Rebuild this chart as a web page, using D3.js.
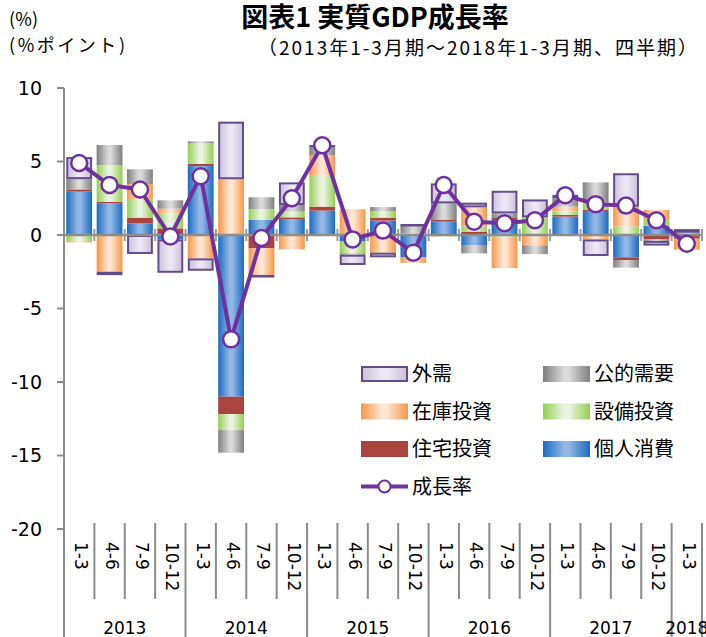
<!DOCTYPE html>
<html>
<head>
<meta charset="utf-8">
<script src="https://cdn.jsdelivr.net/npm/d3@7"></script>
<style>
	body { margin: 0; background: #fff; }
	svg { display: block; font-family: "DejaVu Sans", "Noto Sans CJK JP", sans-serif; }
	.jp { font-family: "Noto Sans CJK JP", sans-serif; }
</style>
</head>
<body>
<svg id="chart" width="706" height="637"></svg>
<script>
// quarters 2013 1-3 .. 2018 1-3
const quarterLabels = ['1-3', '4-6', '7-9', '10-12', '1-3', '4-6', '7-9', '10-12', '1-3', '4-6', '7-9', '10-12',
	'1-3', '4-6', '7-9', '10-12', '1-3', '4-6', '7-9', '10-12', '1-3'];
const yearLabels = ['2013', '2014', '2015', '2016', '2017', '2018'];
const yTicks = [10, 5, 0, -5, -10, -15, -20];

// contributions (%pt)
const consumption = [2.95, 2.16, 0.79, -0.30, 4.69, -11.0, 1.02, 1.09, 1.66, -0.45, 0.98, -1.50, 0.91, -0.68, 1.02, 0.10, 1.25, 1.63, -1.52, 0.63, 0.10];
const housing = [0.15, 0.10, 0.39, 0.45, 0.14, -1.18, -0.91, 0.11, 0.27, 0.05, 0.20, 0.00, 0.11, 0.23, 0.18, 0.00, 0.11, 0.07, -0.18, -0.30, -0.25];
const capex = [-0.40, 2.50, 1.27, 1.00, 1.40, -1.09, 0.73, 0.39, 2.15, -0.79, 0.45, 0.10, -0.10, 0.34, -0.15, 1.10, 0.23, 0.50, 0.57, 0.39, 0.00];
const inventory = [-0.10, -2.50, 1.02, 0.34, -1.59, 3.79, -1.81, -0.98, 1.36, 1.70, -1.20, -0.40, 0.00, 1.31, -2.10, -0.70, 0.34, -0.30, 1.36, 0.68, -0.75];
const publicDemand = [0.70, 1.36, 1.00, 0.57, 0.14, -1.54, 0.82, 0.45, 0.50, -0.10, 0.27, 0.55, 1.13, -0.57, 0.27, -0.60, 0.57, 1.38, -0.52, -0.10, 0.05];
const netExports = [1.50, -0.23, -1.29, -2.27, -0.84, 3.92, -0.10, 1.54, 0.18, -0.70, -0.32, 0.10, 1.36, 0.32, 1.54, 1.22, 0.23, -1.13, 2.27, -0.32, 0.25];
const growth = [4.9, 3.4, 3.1, -0.1, 4.0, -7.1, -0.2, 2.5, 6.1, -0.3, 0.3, -1.2, 3.4, 0.9, 0.8, 1.0, 2.7, 2.1, 2.0, 1.0, -0.6];

const series = [
	{ key: 'cons', name: '個人消費', values: consumption, edge: '#1b6bc0', mid: '#93b8e6' },
	{ key: 'house', name: '住宅投資', values: housing, edge: '#a9443f', mid: '#a9443f' },
	{ key: 'capex', name: '設備投資', values: capex, edge: '#92d050', mid: '#edf3e3' },
	{ key: 'inv', name: '在庫投資', values: inventory, edge: '#f79646', mid: '#fde6d4' },
	{ key: 'pub', name: '公的需要', values: publicDemand, edge: '#7f7f7f', mid: '#dadada' },
	{ key: 'ext', name: '外需', values: netExports, edge: '#cbc1dc', mid: '#ece8f3' }
];

const table = quarterLabels.map((q, i) => {
	const row = { i: i };
	series.forEach(s => row[s.key] = s.values[i]);
	return row;
});

const svg = d3.select('#chart');

const x = d3.scaleBand()
	.domain(d3.range(quarterLabels.length))
	.range([64, 702])
	.paddingInner(0.15)
	.paddingOuter(0.075);

const y = d3.scaleLinear()
	.domain([-20, 10])
	.range([529, 88]);

// boundary between quarter cells
const edgeX = (i) => x.range()[0] + i * x.step();

// gradients
const defs = svg.append('defs');
series.forEach(s => {
	const g = defs.append('linearGradient')
		.attr('id', 'grad-' + s.key)
		.attr('x1', 0).attr('x2', 1).attr('y1', 0).attr('y2', 0);
	g.append('stop').attr('offset', '0%').attr('stop-color', s.edge);
	g.append('stop').attr('offset', '45%').attr('stop-color', s.mid);
	g.append('stop').attr('offset', '55%').attr('stop-color', s.mid);
	g.append('stop').attr('offset', '100%').attr('stop-color', s.edge);
});

// titles
svg.append('text').attr('class', 'jp')
	.attr('x', 375).attr('y', 27)
	.attr('text-anchor', 'middle')
	.attr('font-size', 27).attr('font-weight', 'bold')
	.text('図表1 実質GDP成長率');
svg.append('text').attr('class', 'jp')
	.attr('x', 258).attr('y', 55)
	.attr('font-size', 19)
	.attr('textLength', 439)
	.attr('lengthAdjust', 'spacing')
	.text('（2013年1-3月期～2018年1-3月期、四半期）');
svg.append('text').attr('class', 'jp')
	.attr('x', 9).attr('y', 26)
	.attr('font-size', 18)
	.attr('textLength', 29)
	.attr('lengthAdjust', 'spacing')
	.text('(%)');
svg.append('text').attr('class', 'jp')
	.attr('x', 9).attr('y', 52)
	.attr('font-size', 18)
	.attr('textLength', 116)
	.attr('lengthAdjust', 'spacing')
	.text('(%ポイント)');

// y axis
svg.append('line')
	.attr('x1', 64).attr('x2', 64)
	.attr('y1', y(10)).attr('y2', 637)
	.attr('stroke', '#8c8c8c').attr('stroke-width', 2);

const yt = svg.selectAll('.ytick')
	.data(yTicks)
	.enter()
	.append('g')
	.attr('transform', d => `translate(0, ${y(d)})`);
yt.append('line')
	.attr('x1', 57).attr('x2', 64)
	.attr('stroke', '#8c8c8c').attr('stroke-width', 2);
yt.append('text')
	.attr('x', 42).attr('dy', '0.35em')
	.attr('text-anchor', 'end')
	.attr('font-size', 19)
	.text(d => d);

// stacked bars
const stack = d3.stack()
	.keys(series.map(s => s.key))
	.offset(d3.stackOffsetDiverging);
const layers = stack(table);

const layerG = svg.selectAll('.layer')
	.data(layers)
	.enter()
	.append('g')
	.attr('fill', d => `url(#grad-${d.key})`);

layerG.selectAll('rect')
	.data(d => d.map(v => ({ key: d.key, v: v })).filter(e => Math.abs(e.v[1] - e.v[0]) > 0.001))
	.enter()
	.append('rect')
	.attr('x', d => x(d.v.data.i) + (d.key === 'ext' ? 1 : 0))
	.attr('width', d => x.bandwidth() - (d.key === 'ext' ? 2 : 0))
	.attr('y', d => y(Math.max(d.v[0], d.v[1])) + (d.key === 'ext' ? 1 : 0))
	.attr('height', d => Math.max(0.5, Math.abs(y(d.v[0]) - y(d.v[1])) - (d.key === 'ext' ? 2 : 0)))
	.attr('stroke', d => d.key === 'ext' ? '#634d88' : 'none')
	.attr('stroke-width', 2);

// zero line with ticks
svg.append('line')
	.attr('x1', 64).attr('x2', 702)
	.attr('y1', y(0)).attr('y2', y(0))
	.attr('stroke', '#8c8c8c').attr('stroke-width', 2.5);
svg.selectAll('.ztick')
	.data(d3.range(1, quarterLabels.length + 1))
	.enter()
	.append('line')
	.attr('x1', d => edgeX(d)).attr('x2', d => edgeX(d))
	.attr('y1', y(0) - 6).attr('y2', y(0) + 6)
	.attr('stroke', '#9a9a9a').attr('stroke-width', 2);

// growth line
const line = d3.line()
	.x((d, i) => x(i) + x.bandwidth() / 2)
	.y(d => y(d));
svg.append('path')
	.datum(growth)
	.attr('d', line)
	.attr('fill', 'none')
	.attr('stroke', '#7030a0')
	.attr('stroke-width', 4)
	.attr('stroke-linejoin', 'round');
svg.selectAll('.dot')
	.data(growth)
	.enter()
	.append('circle')
	.attr('cx', (d, i) => x(i) + x.bandwidth() / 2)
	.attr('cy', d => y(d))
	.attr('r', 8)
	.attr('fill', '#fff')
	.attr('stroke', '#7030a0')
	.attr('stroke-width', 2.5);

// x axis: separators and labels
svg.selectAll('.sep')
	.data(d3.range(1, quarterLabels.length + 1))
	.enter()
	.append('line')
	.attr('x1', d => edgeX(d)).attr('x2', d => edgeX(d))
	.attr('y1', 523)
	.attr('y2', d => (d % 4 === 0 || d === quarterLabels.length) ? 637 : 599)
	.attr('stroke', '#8c8c8c').attr('stroke-width', 2);

svg.selectAll('.qlabel')
	.data(quarterLabels)
	.enter()
	.append('text')
	.attr('transform', (d, i) => `translate(${x(i) + x.bandwidth() / 2 + 2}, 542) rotate(90)`)
	.attr('dominant-baseline', 'central')
	.attr('font-size', 17)
	.text(d => d);

svg.selectAll('.ylabel')
	.data(yearLabels)
	.enter()
	.append('text')
	.attr('x', (d, i) => (edgeX(i * 4) + edgeX(Math.min(i * 4 + 4, quarterLabels.length))) / 2)
	.attr('y', 634)
	.attr('text-anchor', 'middle')
	.attr('font-size', 17)
	.text(d => d);

// legend
const legendOrder = ['ext', 'pub', 'inv', 'capex', 'house', 'cons'];
const legend = svg.selectAll('.leg')
	.data(legendOrder.map(k => series.find(s => s.key === k)))
	.enter()
	.append('g')
	.attr('transform', (d, i) => `translate(${i % 2 === 0 ? 361 : 543}, ${374 + Math.floor(i / 2) * 37.5})`);
legend.append('rect')
	.attr('x', d => d.key === 'ext' ? 1 : 0)
	.attr('y', d => d.key === 'ext' ? -7 : -8)
	.attr('width', d => d.key === 'ext' ? 45 : 47)
	.attr('height', d => d.key === 'ext' ? 14 : 16)
	.attr('fill', d => `url(#grad-${d.key})`)
	.attr('stroke', d => d.key === 'ext' ? '#634d88' : 'none')
	.attr('stroke-width', 2);
legend.append('text').attr('class', 'jp')
	.attr('x', 51).attr('dy', '0.35em')
	.attr('font-size', 20)
	.text(d => d.name);

const lg = svg.append('g').attr('transform', 'translate(361, 486.5)');
lg.append('line')
	.attr('x1', 0).attr('x2', 47)
	.attr('stroke', '#7030a0').attr('stroke-width', 4);
lg.append('circle')
	.attr('cx', 23.5).attr('r', 6)
	.attr('fill', '#fff').attr('stroke', '#7030a0').attr('stroke-width', 2);
lg.append('text').attr('class', 'jp')
	.attr('x', 51).attr('dy', '0.35em')
	.attr('font-size', 20)
	.text('成長率');
</script>
</body>
</html>
